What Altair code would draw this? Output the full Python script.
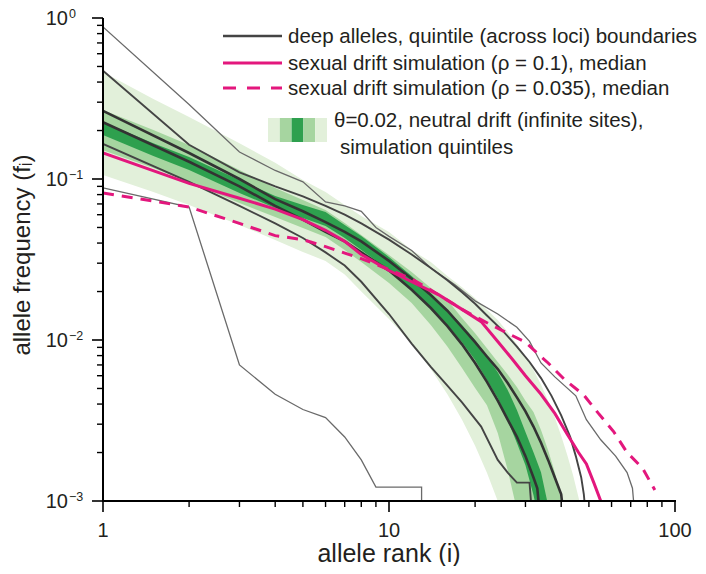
import altair as alt
import pandas as pd

# ---------------- data ----------------
band_rank = [1, 1.5, 2, 3, 4, 5, 6, 7, 8, 10, 12, 14, 16, 18, 20, 22, 24, 26, 28, 30,
             32, 34, 36, 38, 40, 42, 44, 46, 48, 50]
light_hi = [0.462, 0.314, 0.243, 0.167, 0.126, 0.0986, 0.083, 0.069, 0.059, 0.0469,
            0.0362, 0.0305, 0.025, 0.0213, 0.0182, 0.0154, 0.0133, 0.0112, 0.0094, 0.0079,
            0.0065, 0.0053, 0.0042, 0.0033, 0.00254, 0.00193, 0.00145, 0.00105, 0.00076, 0.0005]
light_lo = [0.106, 0.083, 0.069, 0.0518, 0.0418, 0.0352, 0.031, 0.0255, 0.020, 0.0135,
            0.0095, 0.0066, 0.0046, 0.0032, 0.0022, 0.0015, 0.001, 0.00066, 0.0001, 0.0001,
            0.0001, 0.0001, 0.0001, 0.0001, 0.0001, 0.0001, 0.0001, 0.0001, 0.0001, 0.0001]
med_hi = [0.268, 0.2015, 0.1626, 0.1138, 0.088, 0.074, 0.0642, 0.0533, 0.0449, 0.0337,
          0.0264, 0.021, 0.0177, 0.0137, 0.011, 0.0089, 0.0073, 0.0061, 0.0051, 0.0042,
          0.00357, 0.00276, 0.00207, 0.00151, 0.00101, 0.00066, 0.0004, 0.0003, 0.0002, 0.0001]
med_lo = [0.151, 0.117, 0.0958, 0.071, 0.058, 0.0496, 0.0436, 0.0362, 0.0305, 0.0226,
          0.017, 0.0124, 0.0091, 0.0067, 0.00503, 0.00394, 0.00264, 0.00156, 0.00088, 0.0001,
          0.0001, 0.0001, 0.0001, 0.0001, 0.0001, 0.0001, 0.0001, 0.0001, 0.0001, 0.0001]
dark_hi = [0.226, 0.167, 0.137, 0.0986, 0.0784, 0.069, 0.0624, 0.0518, 0.0443, 0.0328,
           0.025, 0.0196, 0.0154, 0.0124, 0.0100, 0.0079, 0.0063, 0.0049, 0.00367, 0.00268,
           0.00201, 0.00151, 0.00094, 0.0005, 0.0001, 0.0001, 0.0001, 0.0001, 0.0001, 0.0001]
dark_lo = [0.1875, 0.139, 0.1138, 0.0819, 0.066, 0.0573, 0.051, 0.043, 0.0362, 0.0272,
           0.0205, 0.0158, 0.0124, 0.0097, 0.0075, 0.00565, 0.00436, 0.00318, 0.00229, 0.00167,
           0.00109, 0.00066, 0.0001, 0.0001, 0.0001, 0.0001, 0.0001, 0.0001, 0.0001, 0.0001]

# deep alleles, quintile boundaries across loci
max_r = [1, 2, 3, 4, 5, 6, 7, 8, 9, 10, 12, 14, 17, 20, 24, 28, 31, 34, 38, 45, 49, 55, 62, 68, 71, 72]
max_v = [0.88, 0.29, 0.147, 0.113, 0.096, 0.072, 0.068, 0.063, 0.05, 0.044, 0.036, 0.028, 0.022,
         0.0175, 0.0145, 0.012, 0.0098, 0.0072, 0.0059, 0.0045, 0.0032, 0.0024, 0.0019, 0.0015,
         0.0012, 0.0009]
q80_r = [1, 2, 3, 4, 5, 6, 7, 8, 10, 12, 14, 16, 18, 20, 22, 25, 28, 31, 34, 37, 40, 43, 45, 47, 48, 48.5]
q80_v = [0.47, 0.163, 0.11, 0.09, 0.078, 0.068, 0.06, 0.053, 0.042, 0.034, 0.028, 0.0235, 0.0198,
         0.0168, 0.0142, 0.0114, 0.0091, 0.0073, 0.0058, 0.0045, 0.0034, 0.0025, 0.0019, 0.0014,
         0.0011, 0.0009]
q60_r = [1, 2, 3, 4, 5, 6, 7, 8, 10, 12, 14, 16, 18, 20, 22, 24, 26, 28, 30, 32, 34, 36, 38, 40, 40.5]
q60_v = [0.265, 0.145, 0.1, 0.075, 0.063, 0.054, 0.047, 0.041, 0.031, 0.024, 0.019, 0.0152, 0.012,
         0.0097, 0.0079, 0.0066, 0.0054, 0.0044, 0.0036, 0.0029, 0.0023, 0.0018, 0.0014, 0.0011,
         0.0009]
q40_r = [1, 2, 3, 4, 5, 6, 7, 8, 10, 12, 14, 16, 18, 20, 22, 24, 26, 28, 30, 32, 33, 33.5]
q40_v = [0.225, 0.128, 0.09, 0.068, 0.056, 0.047, 0.041, 0.035, 0.027, 0.0205, 0.0158, 0.0122,
         0.0094, 0.0072, 0.0055, 0.0042, 0.0032, 0.0025, 0.0019, 0.0014, 0.0012, 0.0009]
q20_r = [1, 2, 3, 4, 5, 6, 7, 8, 10, 12, 14, 16, 18, 21, 24, 26, 28, 31, 31.5]
q20_v = [0.165, 0.096, 0.068, 0.053, 0.043, 0.035, 0.029, 0.023, 0.0145, 0.0095, 0.0068, 0.0052,
         0.0041, 0.0029, 0.0018, 0.0015, 0.0013, 0.0013, 0.0009]
min_r = [1, 2, 3, 4, 5, 6, 7, 8, 9, 13, 13]
min_v = [0.088, 0.067, 0.007, 0.0046, 0.0037, 0.0033, 0.0025, 0.0018, 0.00122, 0.00122, 0.0009]

# sexual drift simulation medians
rho1_r = [1, 2, 3, 4, 5, 6, 7, 8, 10, 12, 15, 18, 21, 24, 27, 30, 34, 38, 42, 46, 49, 52, 55, 56]
rho1_v = [0.145, 0.094, 0.076, 0.065, 0.056, 0.048, 0.041, 0.034, 0.027, 0.023, 0.019, 0.0155,
          0.013, 0.0098, 0.0076, 0.006, 0.0046, 0.0035, 0.0026, 0.002, 0.0017, 0.0013, 0.001, 0.0009]
rho2_r = [1, 2, 3, 4, 5, 6, 8, 9.5, 12, 15, 18, 22, 26, 30, 32, 36, 41, 48, 54, 61, 68, 77, 85]
rho2_v = [0.082, 0.067, 0.053, 0.0445, 0.042, 0.038, 0.032, 0.0284, 0.024, 0.019, 0.0155, 0.0128,
          0.011, 0.0097, 0.0087, 0.0072, 0.0057, 0.00455, 0.0035, 0.0027, 0.002, 0.0016, 0.00117]

y_major = [1, 0.1, 0.01, 0.001]
y_exp = ["0", "\u22121", "\u22122", "\u22123"]
y_minor = [k * 10.0 ** e for e in (-3, -2, -1) for k in range(2, 10)]
x_major = [1, 10, 100]
x_labels = ["1", "10", "100"]
x_minor = [k * 10 ** e for e in (0, 1) for k in range(2, 10)]

# ---------------- styling ----------------
W, H = 572, 483
FONT = "Liberation Sans"
LIGHT, MED, DARK = "#e2f0da", "#a6d5a0", "#2ea04e"
PINK = "#e3177d"
TXT = "#231f20"

xs = alt.Scale(type="log", domain=[1, 100])
ys = alt.Scale(type="log", domain=[0.001, 1])

bands = pd.DataFrame({"r": band_rank * 3,
                      "lo": light_lo + med_lo + dark_lo,
                      "hi": light_hi + med_hi + dark_hi,
                      "b": ["light"] * 30 + ["med"] * 30 + ["dark"] * 30})

def series(name, r, v):
    return pd.DataFrame({"r": r, "v": v, "s": name, "i": list(range(len(r)))})

lines = pd.concat([series("max", max_r, max_v), series("q80", q80_r, q80_v),
                   series("q60", q60_r, q60_v), series("q40", q40_r, q40_v),
                   series("q20", q20_r, q20_v), series("min", min_r, min_v),
                   series("rho1", rho1_r, rho1_v), series("rho2", rho2_r, rho2_v)])

base_b = alt.Chart(bands)
layers = []
for name, col in (("light", LIGHT), ("med", MED), ("dark", DARK)):
    layers.append(base_b.transform_filter(alt.datum.b == name)
                  .mark_area(color=col, clip=True)
                  .encode(x=alt.X("r:Q", scale=xs, axis=None),
                          y=alt.Y("lo:Q", scale=ys, axis=None), y2="hi:Q"))

base_l = alt.Chart(lines)
def line_layer(names, **kw):
    return (base_l.transform_filter(alt.FieldOneOfPredicate(field="s", oneOf=names))
            .mark_line(clip=True, **kw)
            .encode(x=alt.X("r:Q", scale=xs, axis=None), y=alt.Y("v:Q", scale=ys, axis=None),
                    detail="s:N", order="i:Q"))

layers += [
    line_layer(["max", "min"], color="#6a6a6a", strokeWidth=1.3),
    line_layer(["q80", "q20"], color="#444444", strokeWidth=1.9),
    line_layer(["q60", "q40"], color="#333333", strokeWidth=2.6),
    line_layer(["rho1"], color=PINK, strokeWidth=3),
    line_layer(["rho2"], color=PINK, strokeWidth=3, strokeDash=[11, 8]),
]

one = pd.DataFrame({"a": [0]})

# axes
layers.append(alt.Chart(one).mark_rule(color="black", strokeWidth=2)
              .encode(x=alt.value(0), y=alt.value(0), y2=alt.value(H + 1)))
layers.append(alt.Chart(one).mark_rule(color="black", strokeWidth=2)
              .encode(x=alt.value(-1), x2=alt.value(W + 1), y=alt.value(H)))
ymaj = pd.DataFrame({"t": y_major, "b": "10", "e": y_exp})
ymin = pd.DataFrame({"t": y_minor})
xmaj = pd.DataFrame({"t": x_major, "l": x_labels})
xmin = pd.DataFrame({"t": x_minor})
layers.append(alt.Chart(ymaj).mark_rule(color="black", strokeWidth=1.6)
              .encode(y=alt.Y("t:Q", scale=ys, axis=None), x=alt.value(-11), x2=alt.value(0)))
layers.append(alt.Chart(ymin).mark_rule(color="black", strokeWidth=1.4)
              .encode(y=alt.Y("t:Q", scale=ys, axis=None), x=alt.value(-6), x2=alt.value(0)))
layers.append(alt.Chart(xmaj).mark_rule(color="black", strokeWidth=1.6)
              .encode(x=alt.X("t:Q", scale=xs, axis=None), y=alt.value(H), y2=alt.value(H + 11)))
layers.append(alt.Chart(xmin).mark_rule(color="black", strokeWidth=1.4)
              .encode(x=alt.X("t:Q", scale=xs, axis=None), y=alt.value(H), y2=alt.value(H + 6)))
layers.append(alt.Chart(ymaj).mark_text(font=FONT, fontSize=20, color=TXT, align="right",
                                        baseline="middle", dy=1)
              .encode(y=alt.Y("t:Q", scale=ys, axis=None), x=alt.value(-35), text="b:N"))
layers.append(alt.Chart(ymaj).mark_text(font=FONT, fontSize=12.5, color=TXT, align="left",
                                        baseline="middle", dy=-4)
              .encode(y=alt.Y("t:Q", scale=ys, axis=None), x=alt.value(-34), text="e:N"))
layers.append(alt.Chart(xmaj).mark_text(font=FONT, fontSize=20, color=TXT, align="center",
                                        baseline="middle")
              .encode(x=alt.X("t:Q", scale=xs, axis=None), y=alt.value(H + 30), text="l:N"))
layers.append(alt.Chart(one).mark_text(font=FONT, fontSize=25, color=TXT, align="center",
                                       baseline="alphabetic")
              .encode(x=alt.value(W / 2), y=alt.value(H + 61), text=alt.value("allele rank (i)")))
layers.append(alt.Chart(one).mark_text(font=FONT, fontSize=24, color=TXT, align="center",
                                       baseline="alphabetic", angle=270)
              .encode(x=alt.value(-73), y=alt.value(237),
                      text=alt.value("allele frequency (f\u1d62)")))

# legend
LF = 20.5
def lg_rule(y, color, width, dash=None):
    kw = dict(color=color, strokeWidth=width)
    if dash:
        kw["strokeDash"] = dash
    return alt.Chart(one).mark_rule(**kw).encode(x=alt.value(120), x2=alt.value(179), y=alt.value(y))

def lg_text(x, y, s):
    return alt.Chart(one).mark_text(font=FONT, fontSize=LF, color=TXT, align="left",
                                    baseline="middle").encode(x=alt.value(x), y=alt.value(y),
                                                              text=alt.value(s))

layers += [lg_rule(18, "#444444", 2.6), lg_rule(45, PINK, 3), lg_rule(70, PINK, 3, [13, 11]),
           lg_text(185, 19, "deep alleles, quintile (across loci) boundaries"),
           lg_text(185, 46, "sexual drift simulation (\u03c1 = 0.1), median"),
           lg_text(185, 71, "sexual drift simulation (\u03c1 = 0.035), median"),
           lg_text(231, 103, "\u03b8=0.02, neutral drift (infinite sites),"),
           lg_text(237, 130, "simulation quintiles")]
sw = [LIGHT, MED, DARK, MED, LIGHT]
for k, c in enumerate(sw):
    layers.append(alt.Chart(one).mark_rect(color=c)
                  .encode(x=alt.value(165 + 11.8 * k), x2=alt.value(165 + 11.8 * (k + 1)),
                          y=alt.value(100), y2=alt.value(124)))

chart = (alt.layer(*layers)
         .properties(width=W, height=H, autosize=alt.AutoSizeParams(type="none"),
                     padding={"left": 95, "top": 10, "right": 23, "bottom": 65})
         .configure_view(stroke=None))

chart.save("out.html", embed_options={"renderer": "svg", "actions": False})
